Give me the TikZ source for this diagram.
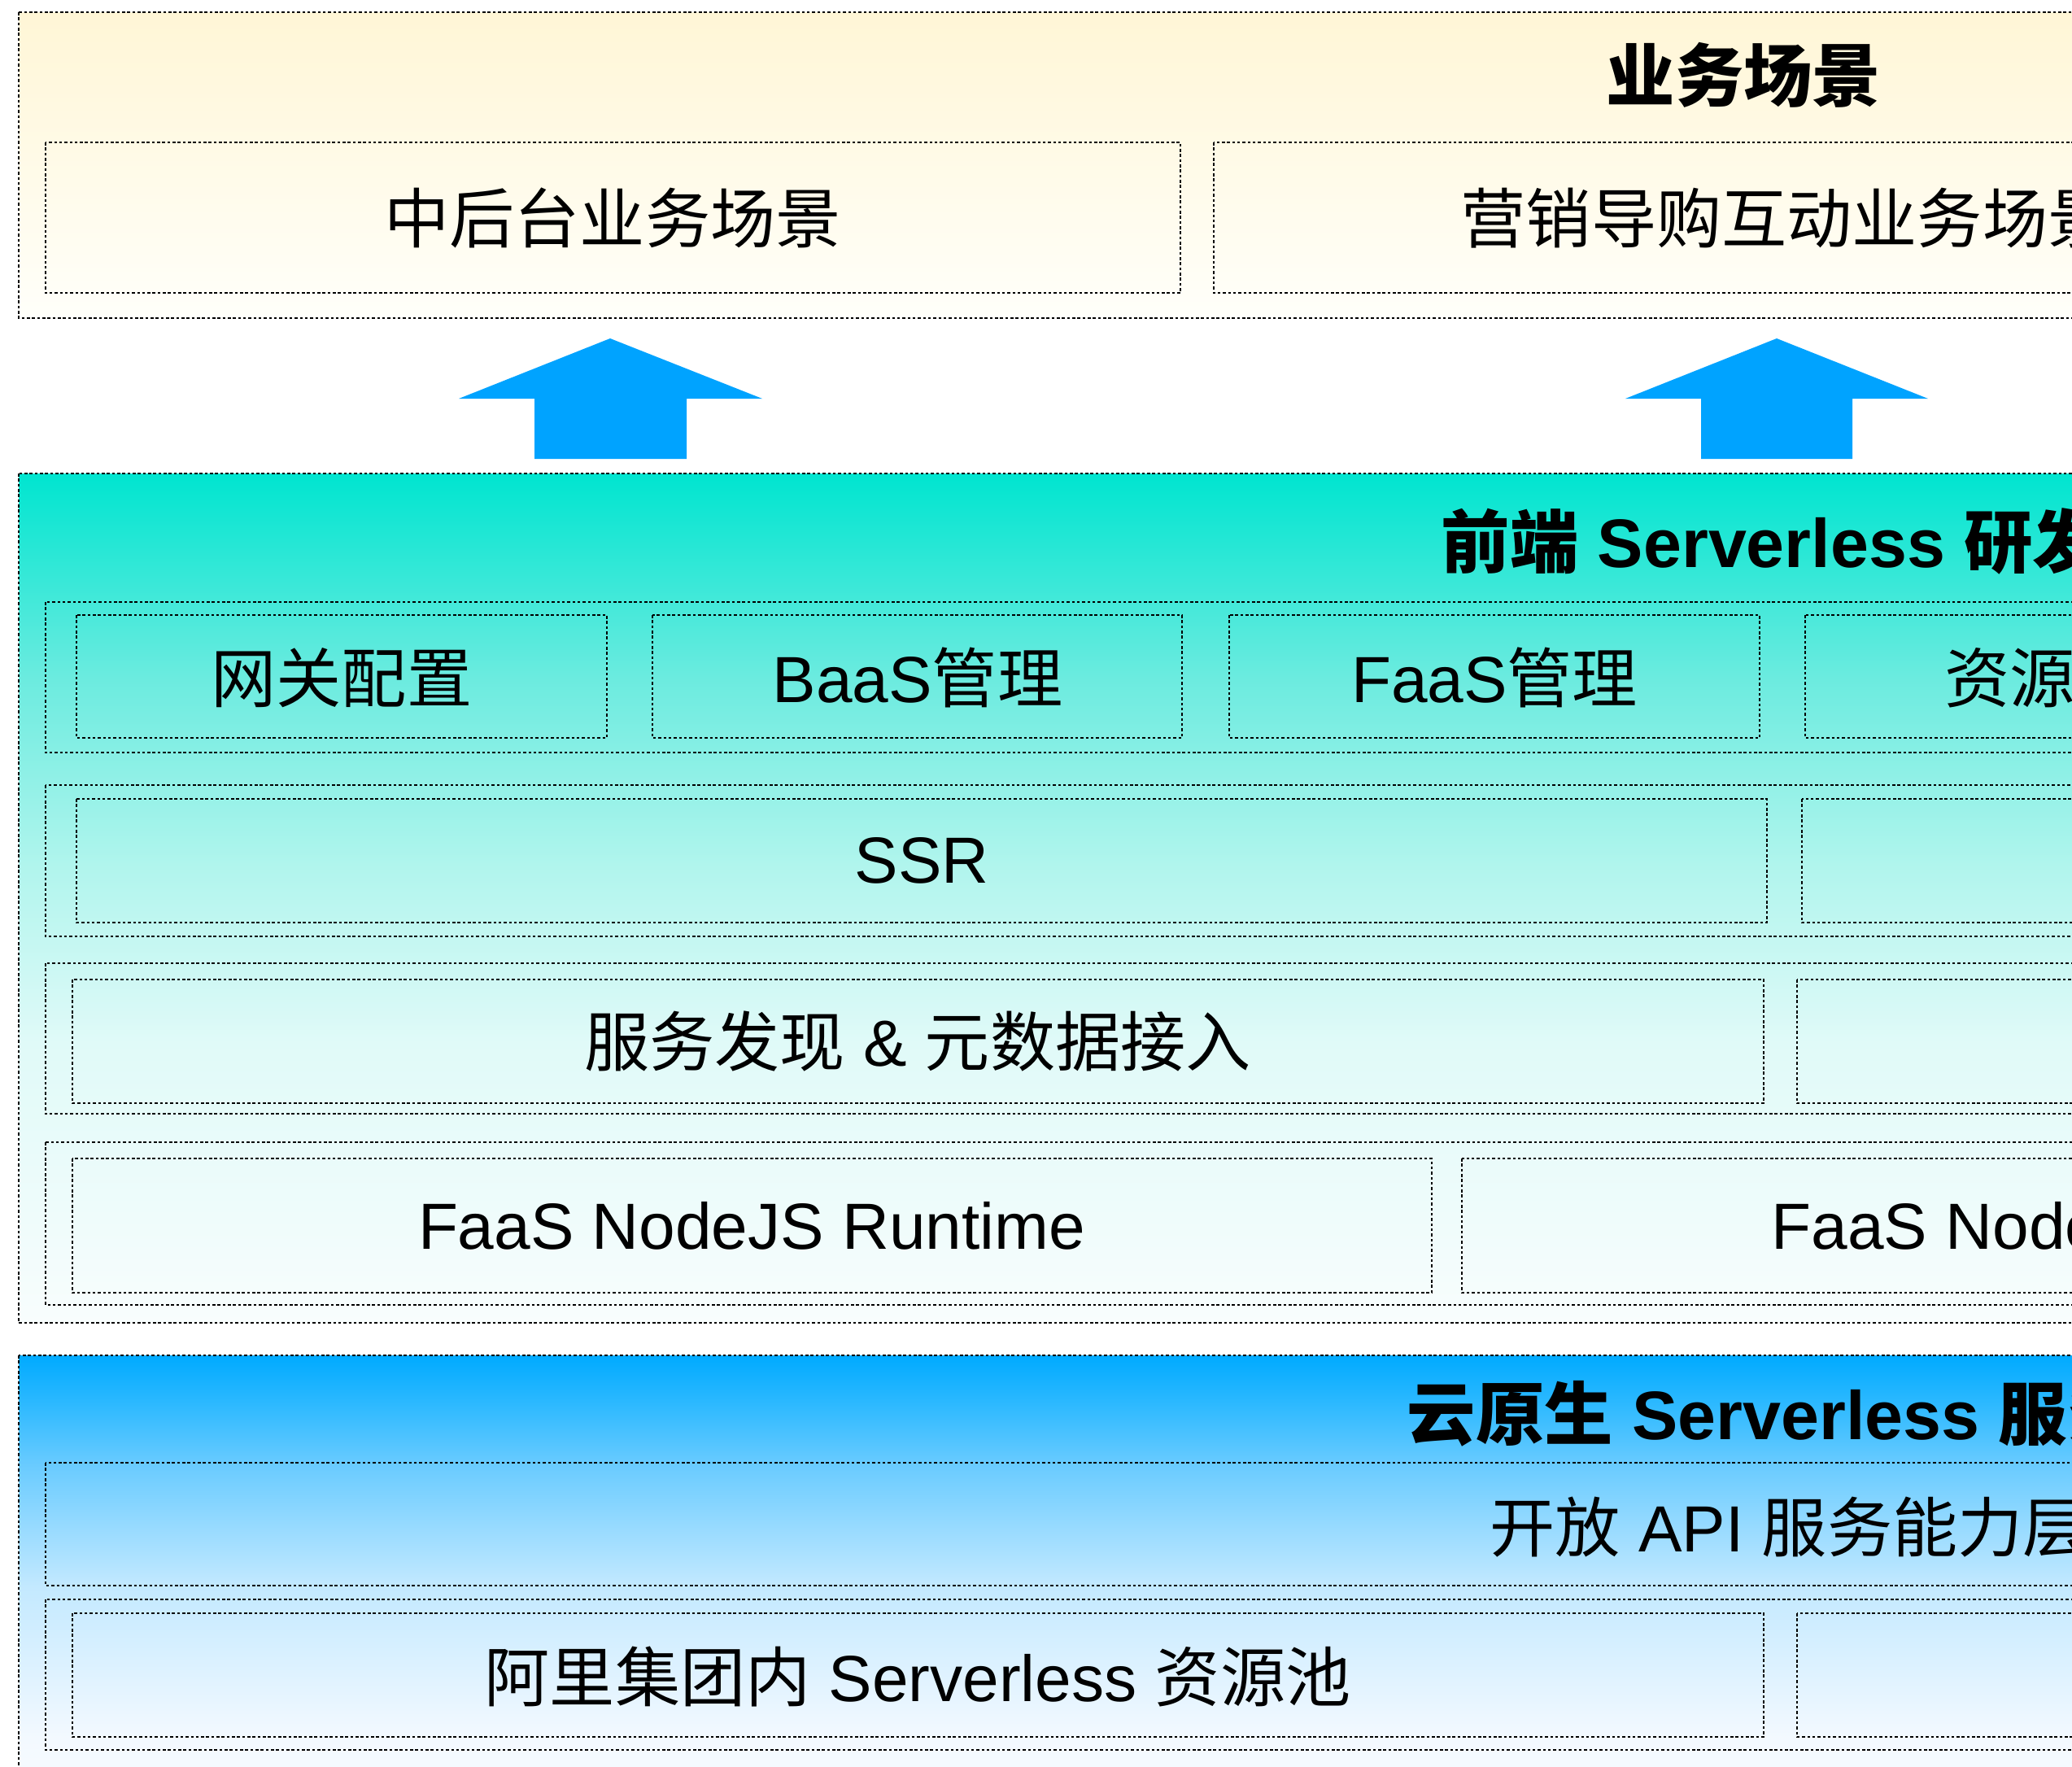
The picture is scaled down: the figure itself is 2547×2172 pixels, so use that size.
\documentclass[tikz,border=0pt]{standalone}
\usepackage{fontspec}
\setmainfont{Liberation Sans}
\newfontfamily\cjk{Noto Sans CJK SC}
\definecolor{arrowblue}{RGB}{0,163,255}
\definecolor{ylA}{RGB}{255,246,214}
\definecolor{ylB}{RGB}{255,255,250}
\definecolor{tlA}{RGB}{0,229,208}
\definecolor{tlB}{RGB}{107,235,223}
\definecolor{tlC}{RGB}{176,245,237}
\definecolor{tlD}{RGB}{224,250,248}
\definecolor{tlE}{RGB}{248,253,253}
\definecolor{blA}{RGB}{0,170,255}
\definecolor{blB}{RGB}{45,185,255}
\definecolor{blC}{RGB}{105,203,255}
\definecolor{blD}{RGB}{195,233,255}
\definecolor{blE}{RGB}{243,249,255}
\definecolor{blF}{RGB}{250,253,255}
\pgfdeclareverticalshading{yellowgrad}{100bp}{color(0bp)=(ylB); color(25bp)=(ylB); color(75bp)=(ylA); color(100bp)=(ylA)}
\pgfdeclareverticalshading{tealgrad}{100bp}{color(0bp)=(tlE); color(25bp)=(tlE); color(41.5bp)=(tlD); color(52bp)=(tlC); color(63bp)=(tlB); color(75bp)=(tlA); color(100bp)=(tlA)}
\pgfdeclareverticalshading{bluegrad}{100bp}{color(0bp)=(blF); color(25bp)=(blF); color(34.8bp)=(blE); color(50.7bp)=(blD); color(63.5bp)=(blC); color(69.9bp)=(blB); color(75bp)=(blA); color(100bp)=(blA)}
\tikzset{
  dotbox/.style={draw=black, line width=0.6pt, dash pattern=on 1pt off 0.8pt},
  lbl/.style={font=\fontsize{22.8pt}{27pt}\selectfont, inner sep=0pt},
  ttl/.style={font=\fontsize{24pt}{28pt}\selectfont\bfseries, inner sep=0pt},
  blockarrow/.style={fill=arrowblue, draw=none}
}
\begin{document}
\begin{tikzpicture}[x=0.01cm,y=-0.01cm]
\useasboundingbox (0,0) rectangle (2547,2172);
\clip (0,0) rectangle (2547,2172);
\fill[white] (0,0) rectangle (2547,2172);

% ---------- business scenario layer ----------
\shade[shading=yellowgrad] (23,15) rectangle (2700,391);
\draw[dotbox] (23,15) rectangle (2700,391);
\node[ttl, anchor=west] (bizT) at (1974,92) {\cjk 业务场景};
\draw[dotbox] (56,175) rectangle (1451,360);
\draw[dotbox] (1492,175) rectangle (2700,360);
\node[lbl] (biz1) at (753,268) {\cjk 中后台业务场景};
\node[lbl, anchor=west] (biz2) at (1795,268) {\cjk 营销导购互动业务场景};

% ---------- arrows ----------
\coordinate (a1) at (750,416);
\coordinate (a2) at (2184,416);
\fill[blockarrow] (657,564) -- (657,490) -- (564,490) -- (a1) -- (937,490) -- (844,490) -- (844,564) -- cycle;
\fill[blockarrow] (2091,564) -- (2091,490) -- (1998,490) -- (a2) -- (2370,490) -- (2277,490) -- (2277,564) -- cycle;

% ---------- front-end serverless layer ----------
\shade[shading=tealgrad] (23,582) rectangle (2700,1626);
\draw[dotbox] (23,582) rectangle (2700,1626);
\node[ttl, anchor=west] (feT) at (1771,665) {{\cjk 前端} Serverless {\cjk 研发}};

\draw[dotbox] (56,740) rectangle (2700,925);
\draw[dotbox] (94,756) rectangle (746,907);
\draw[dotbox] (802,756) rectangle (1453,907);
\draw[dotbox] (1511,756) rectangle (2163,907);
\draw[dotbox] (2219,756) rectangle (2700,907);
\node[lbl] (gw) at (420,833) {\cjk 网关配置};
\node[lbl] (baas) at (1128,833) {BaaS{\cjk 管理}};
\node[lbl] (faas) at (1837,833) {FaaS{\cjk 管理}};
\node[lbl, anchor=west] (res) at (2390,833) {\cjk 资源};

\draw[dotbox] (56,965) rectangle (2700,1151);
\draw[dotbox] (94,982) rectangle (2172,1134);
\draw[dotbox] (2215,982) rectangle (2700,1134);
\node[lbl] (ssr) at (1133,1058) {SSR};

\draw[dotbox] (56,1184) rectangle (2700,1369);
\draw[dotbox] (89,1204) rectangle (2168,1356);
\draw[dotbox] (2209,1204) rectangle (2700,1356);
\node[lbl] (disc) at (1128,1280) {{\cjk 服务发现} \& {\cjk 元数据接入}};

\draw[dotbox] (56,1404) rectangle (2700,1604);
\draw[dotbox] (89,1424) rectangle (1760,1589);
\draw[dotbox] (1797,1424) rectangle (2700,1589);
\node[lbl] (rt1) at (924,1507) {FaaS NodeJS Runtime};
\node[lbl, anchor=west] (rt2) at (2177,1507) {FaaS NodeJS};

% ---------- cloud native serverless layer ----------
\shade[shading=bluegrad] (23,1666) rectangle (2700,2250);
\draw[dotbox] (23,1666) rectangle (2700,2250);
\node[ttl, anchor=west] (cnT) at (1729,1738) {{\cjk 云原生} Serverless {\cjk 服务}};

\draw[dotbox] (56,1798) rectangle (2700,1949);
\node[lbl, anchor=west] (api) at (1831,1877) {{\cjk 开放} API {\cjk 服务能力层}};

\draw[dotbox] (56,1966) rectangle (2700,2151);
\draw[dotbox] (89,1983) rectangle (2168,2135);
\draw[dotbox] (2209,1983) rectangle (2700,2135);
\node[lbl] (pool) at (1128,2061) {{\cjk 阿里集团内} Serverless {\cjk 资源池}};
\end{tikzpicture}
\end{document}
